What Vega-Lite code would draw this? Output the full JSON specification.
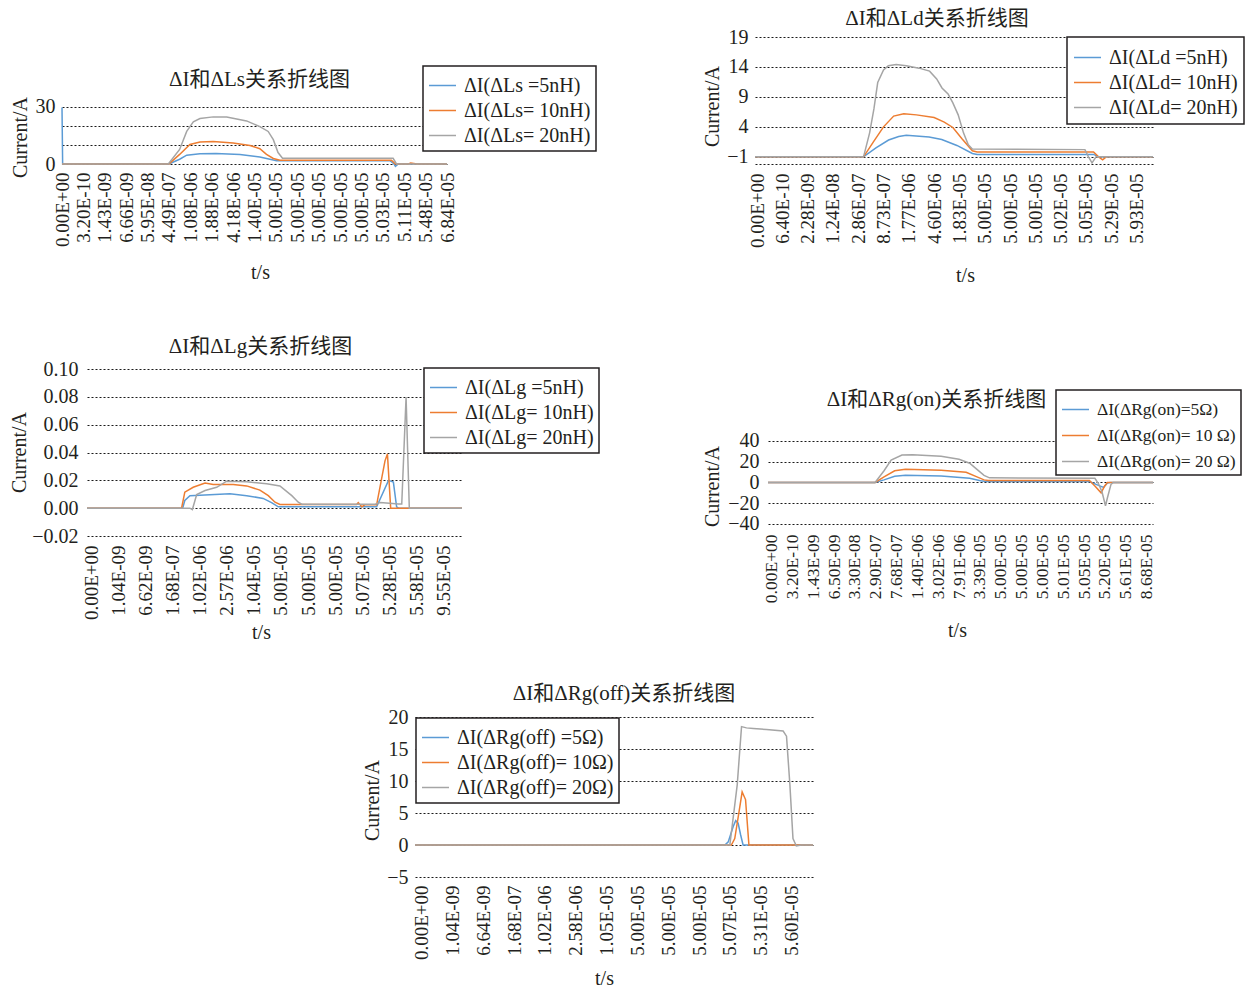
{
  "$schema": "https://vega.github.io/schema/vega-lite/v6.json",
  "background": "white",
  "padding": {"left": 9, "top": 8, "right": 0, "bottom": 0},
  "config": {
    "view": {"stroke": null},
    "font": "Liberation Serif",
    "title": {"font": "Liberation Serif, Noto Sans CJK SC", "fontSize": 21, "fontWeight": "normal", "color": "#231f20", "frame": "group", "anchor": "middle", "offset": 0, "baseline": "middle"},
    "axis": {"domain": false, "ticks": false, "grid": false, "labelFont": "Liberation Serif", "labelFontSize": 20, "labelColor": "#231f20", "titleFont": "Liberation Serif", "titleFontSize": 20, "titleFontWeight": "normal", "titleColor": "#231f20", "gridColor": "#1a1a1a", "gridDash": [2, 2], "gridWidth": 1.2, "titleBaseline": "middle", "titleAlign": "center"},
    "axisX": {"labelAngle": 270, "labelFontSize": 19, "labelOverlap": false, "labelFlush": false, "labelPadding": 8},
    "axisY": {"grid": true, "labelPadding": 7, "titleAngle": 270},
    "legend": {"labelFont": "Liberation Serif", "labelFontSize": 20, "labelColor": "#231f20", "labelLimit": 400, "symbolType": "stroke", "symbolSize": 729, "symbolStrokeWidth": 1.8, "strokeColor": "#231f20", "strokeWidth": 1.5, "fillColor": "white", "padding": 5, "rowPadding": 0, "labelOffset": 7, "orient": "none"},
    "line": {"strokeWidth": 1.5}
  },
  "datasets": {
    "p1": [
      {"s": "5nH", "x": 0, "v": 29.5}, {"s": "5nH", "x": 0.03, "v": 0}, {"s": "5nH", "x": 5.0, "v": 0}, {"s": "5nH", "x": 5.5, "v": 2.5}, {"s": "5nH", "x": 5.83, "v": 4.6}, {"s": "5nH", "x": 6.45, "v": 5.3}, {"s": "5nH", "x": 7.2, "v": 5.5}, {"s": "5nH", "x": 8.32, "v": 4.9}, {"s": "5nH", "x": 9.25, "v": 3.7}, {"s": "5nH", "x": 9.72, "v": 2.5}, {"s": "5nH", "x": 10.03, "v": 1.7}, {"s": "5nH", "x": 15.33, "v": 1.7}, {"s": "5nH", "x": 15.5, "v": 0.3}, {"s": "5nH", "x": 15.59, "v": -1.2}, {"s": "5nH", "x": 15.72, "v": 0}, {"s": "5nH", "x": 18, "v": 0},
      {"s": "10nH", "x": 0, "v": 0}, {"s": "10nH", "x": 5.0, "v": 0}, {"s": "10nH", "x": 5.5, "v": 5}, {"s": "10nH", "x": 5.98, "v": 10.2}, {"s": "10nH", "x": 6.45, "v": 11.5}, {"s": "10nH", "x": 7.07, "v": 11.8}, {"s": "10nH", "x": 8.0, "v": 11}, {"s": "10nH", "x": 8.79, "v": 9.7}, {"s": "10nH", "x": 9.25, "v": 8}, {"s": "10nH", "x": 9.56, "v": 5}, {"s": "10nH", "x": 9.88, "v": 2.9}, {"s": "10nH", "x": 10.19, "v": 2}, {"s": "10nH", "x": 15.4, "v": 2}, {"s": "10nH", "x": 15.59, "v": 0}, {"s": "10nH", "x": 16.2, "v": 0}, {"s": "10nH", "x": 16.3, "v": 0.5}, {"s": "10nH", "x": 16.45, "v": 0.3}, {"s": "10nH", "x": 16.6, "v": 0}, {"s": "10nH", "x": 18, "v": 0},
      {"s": "20nH", "x": 0, "v": 0}, {"s": "20nH", "x": 4.97, "v": 0}, {"s": "20nH", "x": 5.5, "v": 7.6}, {"s": "20nH", "x": 5.83, "v": 17}, {"s": "20nH", "x": 6.14, "v": 22}, {"s": "20nH", "x": 6.45, "v": 23.7}, {"s": "20nH", "x": 7.07, "v": 24.6}, {"s": "20nH", "x": 7.7, "v": 24.5}, {"s": "20nH", "x": 8.63, "v": 22.5}, {"s": "20nH", "x": 9.25, "v": 19.5}, {"s": "20nH", "x": 9.64, "v": 17}, {"s": "20nH", "x": 9.88, "v": 12.7}, {"s": "20nH", "x": 10.1, "v": 6}, {"s": "20nH", "x": 10.31, "v": 3}, {"s": "20nH", "x": 15.48, "v": 3}, {"s": "20nH", "x": 15.64, "v": 0}, {"s": "20nH", "x": 18, "v": 0}
    ],
    "p2": [
      {"s": "5nH", "x": -0.08, "v": -1}, {"s": "5nH", "x": 4.21, "v": -1}, {"s": "5nH", "x": 4.7, "v": 0.5}, {"s": "5nH", "x": 5.2, "v": 1.8}, {"s": "5nH", "x": 5.6, "v": 2.4}, {"s": "5nH", "x": 5.9, "v": 2.6}, {"s": "5nH", "x": 6.8, "v": 2.3}, {"s": "5nH", "x": 7.3, "v": 1.9}, {"s": "5nH", "x": 7.9, "v": 0.9}, {"s": "5nH", "x": 8.51, "v": -0.45}, {"s": "5nH", "x": 8.7, "v": -0.6}, {"s": "5nH", "x": 13.3, "v": -0.6}, {"s": "5nH", "x": 13.5, "v": -1}, {"s": "5nH", "x": 15.65, "v": -1},
      {"s": "10nH", "x": -0.08, "v": -1}, {"s": "10nH", "x": 4.21, "v": -1}, {"s": "10nH", "x": 4.6, "v": 1.5}, {"s": "10nH", "x": 5.0, "v": 4}, {"s": "10nH", "x": 5.4, "v": 5.8}, {"s": "10nH", "x": 5.8, "v": 6.2}, {"s": "10nH", "x": 6.3, "v": 6.0}, {"s": "10nH", "x": 7.0, "v": 5.55}, {"s": "10nH", "x": 7.4, "v": 4.8}, {"s": "10nH", "x": 7.74, "v": 3.9}, {"s": "10nH", "x": 8.1, "v": 2}, {"s": "10nH", "x": 8.51, "v": 0}, {"s": "10nH", "x": 8.7, "v": -0.2}, {"s": "10nH", "x": 13.3, "v": -0.2}, {"s": "10nH", "x": 13.5, "v": -1}, {"s": "10nH", "x": 13.66, "v": -1.5}, {"s": "10nH", "x": 13.8, "v": -1}, {"s": "10nH", "x": 15.65, "v": -1},
      {"s": "20nH", "x": -0.08, "v": -1}, {"s": "20nH", "x": 4.21, "v": -1}, {"s": "20nH", "x": 4.45, "v": 3}, {"s": "20nH", "x": 4.62, "v": 7}, {"s": "20nH", "x": 4.77, "v": 11.4}, {"s": "20nH", "x": 5.0, "v": 13.5}, {"s": "20nH", "x": 5.19, "v": 14.2}, {"s": "20nH", "x": 5.5, "v": 14.4}, {"s": "20nH", "x": 5.9, "v": 14.2}, {"s": "20nH", "x": 6.4, "v": 13.8}, {"s": "20nH", "x": 6.82, "v": 13.3}, {"s": "20nH", "x": 7.1, "v": 12}, {"s": "20nH", "x": 7.31, "v": 10.5}, {"s": "20nH", "x": 7.55, "v": 9.5}, {"s": "20nH", "x": 7.74, "v": 8}, {"s": "20nH", "x": 7.95, "v": 6}, {"s": "20nH", "x": 8.16, "v": 3}, {"s": "20nH", "x": 8.35, "v": 1}, {"s": "20nH", "x": 8.51, "v": 0.3}, {"s": "20nH", "x": 12.96, "v": 0.2}, {"s": "20nH", "x": 13.1, "v": -1}, {"s": "20nH", "x": 13.24, "v": -2}, {"s": "20nH", "x": 13.4, "v": -1}, {"s": "20nH", "x": 15.65, "v": -1}
    ],
    "p3": [
      {"s": "5nH", "x": -0.18, "v": 0}, {"s": "5nH", "x": 3.36, "v": 0}, {"s": "5nH", "x": 3.44, "v": 0.0055}, {"s": "5nH", "x": 3.63, "v": 0.009}, {"s": "5nH", "x": 5.11, "v": 0.0103}, {"s": "5nH", "x": 5.73, "v": 0.009}, {"s": "5nH", "x": 6.34, "v": 0.007}, {"s": "5nH", "x": 6.65, "v": 0.004}, {"s": "5nH", "x": 6.9, "v": 0.001}, {"s": "5nH", "x": 10.54, "v": 0.001}, {"s": "5nH", "x": 10.98, "v": 0.02}, {"s": "5nH", "x": 11.16, "v": 0.0187}, {"s": "5nH", "x": 11.28, "v": 0.001}, {"s": "5nH", "x": 11.35, "v": 0}, {"s": "5nH", "x": 13.7, "v": 0},
      {"s": "10nH", "x": -0.18, "v": 0}, {"s": "10nH", "x": 3.32, "v": 0}, {"s": "10nH", "x": 3.44, "v": 0.0115}, {"s": "10nH", "x": 3.75, "v": 0.015}, {"s": "10nH", "x": 4.19, "v": 0.018}, {"s": "10nH", "x": 4.49, "v": 0.017}, {"s": "10nH", "x": 5.23, "v": 0.017}, {"s": "10nH", "x": 5.73, "v": 0.016}, {"s": "10nH", "x": 6.22, "v": 0.013}, {"s": "10nH", "x": 6.53, "v": 0.009}, {"s": "10nH", "x": 6.78, "v": 0.0043}, {"s": "10nH", "x": 6.96, "v": 0.0026}, {"s": "10nH", "x": 9.8, "v": 0.0026}, {"s": "10nH", "x": 9.86, "v": 0.004}, {"s": "10nH", "x": 9.99, "v": 0.001}, {"s": "10nH", "x": 10.1, "v": 0.0024}, {"s": "10nH", "x": 10.54, "v": 0.0024}, {"s": "10nH", "x": 10.85, "v": 0.034}, {"s": "10nH", "x": 10.94, "v": 0.039}, {"s": "10nH", "x": 11.06, "v": 0}, {"s": "10nH", "x": 13.7, "v": 0},
      {"s": "20nH", "x": -0.18, "v": 0}, {"s": "20nH", "x": 3.63, "v": 0}, {"s": "20nH", "x": 3.72, "v": -0.001}, {"s": "20nH", "x": 3.88, "v": 0.0098}, {"s": "20nH", "x": 4.19, "v": 0.0127}, {"s": "20nH", "x": 4.62, "v": 0.015}, {"s": "20nH", "x": 4.99, "v": 0.0194}, {"s": "20nH", "x": 5.73, "v": 0.019}, {"s": "20nH", "x": 6.47, "v": 0.0175}, {"s": "20nH", "x": 6.96, "v": 0.016}, {"s": "20nH", "x": 7.4, "v": 0.009}, {"s": "20nH", "x": 7.64, "v": 0.0043}, {"s": "20nH", "x": 7.77, "v": 0.0029}, {"s": "20nH", "x": 10.48, "v": 0.0029}, {"s": "20nH", "x": 10.67, "v": 0.004}, {"s": "20nH", "x": 11.35, "v": 0.003}, {"s": "20nH", "x": 11.47, "v": 0.003}, {"s": "20nH", "x": 11.63, "v": 0.0798}, {"s": "20nH", "x": 11.75, "v": 0}, {"s": "20nH", "x": 13.7, "v": 0}
    ],
    "p4": [
      {"s": "5Ω", "x": -0.17, "v": 0}, {"s": "5Ω", "x": 4.97, "v": 0}, {"s": "5Ω", "x": 5.4, "v": 2.5}, {"s": "5Ω", "x": 5.91, "v": 6}, {"s": "5Ω", "x": 6.43, "v": 6.9}, {"s": "5Ω", "x": 8.14, "v": 6.3}, {"s": "5Ω", "x": 9.51, "v": 4}, {"s": "5Ω", "x": 10.03, "v": 1.6}, {"s": "5Ω", "x": 10.3, "v": 1}, {"s": "5Ω", "x": 15.26, "v": 1}, {"s": "5Ω", "x": 15.69, "v": -2.8}, {"s": "5Ω", "x": 15.94, "v": -4.8}, {"s": "5Ω", "x": 16.12, "v": -0.6}, {"s": "5Ω", "x": 16.25, "v": 0}, {"s": "5Ω", "x": 18.31, "v": 0},
      {"s": "10Ω", "x": -0.17, "v": 0}, {"s": "10Ω", "x": 4.97, "v": 0}, {"s": "10Ω", "x": 5.4, "v": 5.4}, {"s": "10Ω", "x": 5.91, "v": 11.3}, {"s": "10Ω", "x": 6.43, "v": 12.7}, {"s": "10Ω", "x": 8.14, "v": 11.9}, {"s": "10Ω", "x": 9.34, "v": 9.8}, {"s": "10Ω", "x": 9.86, "v": 5.4}, {"s": "10Ω", "x": 10.2, "v": 2.5}, {"s": "10Ω", "x": 10.4, "v": 1.9}, {"s": "10Ω", "x": 15.26, "v": 1.9}, {"s": "10Ω", "x": 15.52, "v": -3.4}, {"s": "10Ω", "x": 15.82, "v": -10}, {"s": "10Ω", "x": 15.99, "v": -3.4}, {"s": "10Ω", "x": 16.12, "v": 0}, {"s": "10Ω", "x": 18.31, "v": 0},
      {"s": "20Ω", "x": -0.17, "v": 0}, {"s": "20Ω", "x": 4.97, "v": 0}, {"s": "20Ω", "x": 5.4, "v": 11.3}, {"s": "20Ω", "x": 5.74, "v": 21.5}, {"s": "20Ω", "x": 6.26, "v": 26.5}, {"s": "20Ω", "x": 6.77, "v": 26.8}, {"s": "20Ω", "x": 8.14, "v": 25.3}, {"s": "20Ω", "x": 9.0, "v": 22.4}, {"s": "20Ω", "x": 9.51, "v": 18.6}, {"s": "20Ω", "x": 9.86, "v": 12.7}, {"s": "20Ω", "x": 10.2, "v": 6.9}, {"s": "20Ω", "x": 10.46, "v": 4.5}, {"s": "20Ω", "x": 15.52, "v": 4}, {"s": "20Ω", "x": 15.69, "v": -1}, {"s": "20Ω", "x": 15.86, "v": -9}, {"s": "20Ω", "x": 16.03, "v": -22.4}, {"s": "20Ω", "x": 16.12, "v": -15}, {"s": "20Ω", "x": 16.29, "v": -2}, {"s": "20Ω", "x": 16.4, "v": 0}, {"s": "20Ω", "x": 18.31, "v": 0}
    ],
    "p5": [
      {"s": "5Ω", "x": -0.22, "v": 0}, {"s": "5Ω", "x": 9.84, "v": 0}, {"s": "5Ω", "x": 9.95, "v": 0.5}, {"s": "5Ω", "x": 10.11, "v": 2.9}, {"s": "5Ω", "x": 10.19, "v": 3.8}, {"s": "5Ω", "x": 10.27, "v": 3.4}, {"s": "5Ω", "x": 10.35, "v": 1.6}, {"s": "5Ω", "x": 10.43, "v": 0}, {"s": "5Ω", "x": 12.7, "v": 0},
      {"s": "10Ω", "x": -0.22, "v": 0}, {"s": "10Ω", "x": 10.05, "v": 0}, {"s": "10Ω", "x": 10.16, "v": 1}, {"s": "10Ω", "x": 10.3, "v": 5.2}, {"s": "10Ω", "x": 10.4, "v": 8.3}, {"s": "10Ω", "x": 10.51, "v": 7.1}, {"s": "10Ω", "x": 10.62, "v": 0}, {"s": "10Ω", "x": 12.7, "v": 0},
      {"s": "20Ω", "x": -0.22, "v": 0}, {"s": "20Ω", "x": 10.0, "v": 0}, {"s": "20Ω", "x": 10.24, "v": 9.4}, {"s": "20Ω", "x": 10.38, "v": 18.5}, {"s": "20Ω", "x": 10.54, "v": 18.3}, {"s": "20Ω", "x": 10.76, "v": 18.2}, {"s": "20Ω", "x": 11.19, "v": 18.05}, {"s": "20Ω", "x": 11.73, "v": 17.8}, {"s": "20Ω", "x": 11.84, "v": 17.0}, {"s": "20Ω", "x": 11.95, "v": 9.4}, {"s": "20Ω", "x": 12.05, "v": 1}, {"s": "20Ω", "x": 12.16, "v": -0.15}, {"s": "20Ω", "x": 12.32, "v": 0}, {"s": "20Ω", "x": 12.7, "v": 0}
    ],
    "blank": [{"a": 1}]
  },
  "bounds": "flush",
  "spacing": 0,
  "resolve": {"scale": {"color": "independent"}, "legend": {"color": "independent"}},
  "vconcat": [
    {
      "hconcat": [
        {
          "width": 385, "height": 127,
          "data": {"name": "p1"},
          "title": {"text": "ΔI和ΔLs关系折线图", "dx": 5, "dy": 57},
          "mark": "line",
          "encoding": {
            "x": {"field": "x", "type": "quantitative", "scale": {"domain": [0, 18], "nice": false, "zero": false},
              "axis": {"values": [0,1,2,3,4,5,6,7,8,9,10,11,12,13,14,15,16,17,18], "labelExpr": "['0.00E+00','3.20E-10','1.43E-09','6.66E-09','5.95E-08','4.49E-07','1.08E-06','1.88E-06','4.18E-06','1.40E-05','5.00E-05','5.00E-05','5.00E-05','5.00E-05','5.00E-05','5.03E-05','5.11E-05','5.48E-05','6.84E-05'][datum.value]", "title": "t/s", "titleX": 198, "titleY": 108}},
            "y": {"field": "v", "type": "quantitative", "scale": {"domain": [0, 66.3], "nice": false, "zero": false},
              "axis": {"values": [0, 10, 20, 30], "title": "Current/A", "titleX": -41.5, "titleY": 100}},
            "color": {"field": "s", "type": "nominal", "scale": {"domain": ["5nH", "10nH", "20nH"], "range": ["#5B9BD5", "#ED7D31", "#A5A5A5"]},
              "legend": {"title": null, "legendX": 361, "legendY": 29, "labelExpr": "datum.label == '5nH' ? 'ΔI(ΔLs =5nH)' : 'ΔI(ΔLs= ' + datum.label + ')'"}}
          }
        },
        {"width": 308, "height": 1, "data": {"name": "blank"}, "mark": {"type": "point", "opacity": 0}},
        {
          "width": 398, "height": 127,
          "data": {"name": "p2"},
          "title": {"text": "ΔI和ΔLd关系折线图", "dx": -17, "dy": 6},
          "mark": "line",
          "encoding": {
            "x": {"field": "x", "type": "quantitative", "scale": {"domain": [-0.08, 15.65], "nice": false, "zero": false},
              "axis": {"values": [0,1,2,3,4,5,6,7,8,9,10,11,12,13,14,15], "labelPadding": 9, "labelExpr": "['0.00E+00','6.40E-10','2.28E-09','1.24E-08','2.86E-07','8.73E-07','1.77E-06','4.60E-06','1.83E-05','5.00E-05','5.00E-05','5.00E-05','5.02E-05','5.05E-05','5.29E-05','5.93E-05'][datum.value]", "title": "t/s", "titleX": 210, "titleY": 111}},
            "y": {"field": "v", "type": "quantitative", "scale": {"domain": [-2.2, 19], "nice": false, "zero": false},
              "axis": {"values": [-2.2, -1, 4, 9, 14, 19], "labelExpr": "datum.value < -2 ? '' : datum.label", "title": "Current/A", "titleX": -43, "titleY": 69}},
            "color": {"field": "s", "type": "nominal", "scale": {"domain": ["5nH", "10nH", "20nH"], "range": ["#5B9BD5", "#ED7D31", "#A5A5A5"]},
              "legend": {"title": null, "legendX": 312, "legendY": 0, "padding": 6, "labelExpr": "datum.label == '5nH' ? 'ΔI(ΔLd =5nH)' : 'ΔI(ΔLd= ' + datum.label + ')'"}}
          }
        }
      ],
      "spacing": 0, "bounds": "flush",
      "resolve": {"scale": {"color": "independent"}, "legend": {"color": "independent"}}
    },
    {"width": 1, "height": 332, "data": {"name": "blank"}, "mark": {"type": "point", "opacity": 0}},
    {
      "hconcat": [
        {"width": 25, "height": 1, "data": {"name": "blank"}, "mark": {"type": "point", "opacity": 0}},
        {
          "width": 375, "height": 167,
          "data": {"name": "p3"},
          "title": {"text": "ΔI和ΔLg关系折线图", "dx": -14, "dy": 2},
          "mark": "line",
          "encoding": {
            "x": {"field": "x", "type": "quantitative", "scale": {"domain": [-0.18, 13.7], "nice": false, "zero": false},
              "axis": {"values": [0,1,2,3,4,5,6,7,8,9,10,11,12,13], "labelPadding": 9, "labelExpr": "['0.00E+00','1.04E-09','6.62E-09','1.68E-07','1.02E-06','2.57E-06','1.04E-05','5.00E-05','5.00E-05','5.00E-05','5.07E-05','5.28E-05','5.58E-05','9.55E-05'][datum.value]", "title": "t/s", "titleX": 174, "titleY": 96}},
            "y": {"field": "v", "type": "quantitative", "scale": {"domain": [-0.02, 0.1], "nice": false, "zero": false},
              "axis": {"values": [-0.02, 0, 0.02, 0.04, 0.06, 0.08, 0.1], "format": ".2f", "labelPadding": 9, "title": "Current/A", "titleX": -68, "titleY": 83}},
            "color": {"field": "s", "type": "nominal", "scale": {"domain": ["5nH", "10nH", "20nH"], "range": ["#5B9BD5", "#ED7D31", "#A5A5A5"]},
              "legend": {"title": null, "legendX": 337, "legendY": -1, "labelExpr": "datum.label == '5nH' ? 'ΔI(ΔLg =5nH)' : 'ΔI(ΔLg= ' + datum.label + ')'"}}
          }
        },
        {"width": 306, "height": 1, "data": {"name": "blank"}, "mark": {"type": "point", "opacity": 0}},
        {
          "width": 385, "height": 167,
          "data": {"name": "p4"},
          "title": {"text": "ΔI和ΔRg(on)关系折线图", "dx": -24, "dy": 45},
          "mark": "line",
          "encoding": {
            "x": {"field": "x", "type": "quantitative", "scale": {"domain": [-0.17, 18.31], "nice": false, "zero": false},
              "axis": {"values": [0,1,2,3,4,5,6,7,8,9,10,11,12,13,14,15,16,17,18], "offset": -12, "labelFontSize": 17.5, "labelPadding": 10, "labelExpr": "['0.00E+00','3.20E-10','1.43E-09','6.50E-09','3.30E-08','2.90E-07','7.68E-07','1.40E-06','3.02E-06','7.91E-06','3.39E-05','5.00E-05','5.00E-05','5.00E-05','5.01E-05','5.05E-05','5.20E-05','5.61E-05','8.68E-05'][datum.value]", "title": "t/s", "titleX": 189, "titleY": 106}},
            "y": {"field": "v", "type": "quantitative", "scale": {"domain": [-51.6, 109.4], "nice": false, "zero": false},
              "axis": {"values": [-40, -20, 0, 20, 40], "labelPadding": 9, "title": "Current/A", "titleX": -56, "titleY": 117}},
            "color": {"field": "s", "type": "nominal", "scale": {"domain": ["5Ω", "10Ω", "20Ω"], "range": ["#5B9BD5", "#ED7D31", "#A5A5A5"]},
              "legend": {"title": null, "legendX": 288, "legendY": 21, "labelFontSize": 17.5, "rowPadding": 3, "labelExpr": "datum.label == '5Ω' ? 'ΔI(ΔRg(on)=5Ω)' : 'ΔI(ΔRg(on)= ' + replace(datum.label, 'Ω', ' Ω') + ')'"}}
          }
        }
      ],
      "spacing": 0, "bounds": "flush",
      "resolve": {"scale": {"color": "independent"}, "legend": {"color": "independent"}}
    },
    {"width": 1, "height": 348, "data": {"name": "blank"}, "mark": {"type": "point", "opacity": 0}},
    {
      "hconcat": [
        {"width": 353, "height": 1, "data": {"name": "blank"}, "mark": {"type": "point", "opacity": 0}},
        {
          "width": 398, "height": 160,
          "data": {"name": "p5"},
          "title": {"text": "ΔI和ΔRg(off)关系折线图", "dx": 10, "dy": 1},
          "mark": "line",
          "encoding": {
            "x": {"field": "x", "type": "quantitative", "scale": {"domain": [-0.22, 12.7], "nice": false, "zero": false},
              "axis": {"values": [0,1,2,3,4,5,6,7,8,9,10,11,12], "labelExpr": "['0.00E+00','1.04E-09','6.64E-09','1.68E-07','1.02E-06','2.58E-06','1.05E-05','5.00E-05','5.00E-05','5.00E-05','5.07E-05','5.31E-05','5.60E-05'][datum.value]", "title": "t/s", "titleX": 189, "titleY": 101}},
            "y": {"field": "v", "type": "quantitative", "scale": {"domain": [-5, 20], "nice": false, "zero": false},
              "axis": {"values": [-5, 0, 5, 10, 15, 20], "title": "Current/A", "titleX": -43, "titleY": 83}},
            "color": {"field": "s", "type": "nominal", "scale": {"domain": ["5Ω", "10Ω", "20Ω"], "range": ["#5B9BD5", "#ED7D31", "#A5A5A5"]},
              "legend": {"title": null, "legendX": 1, "legendY": 1, "labelExpr": "datum.label == '5Ω' ? 'ΔI(ΔRg(off) =5Ω)' : 'ΔI(ΔRg(off)= ' + datum.label + ')'"}}
          }
        }
      ],
      "spacing": 0, "bounds": "flush",
      "resolve": {"scale": {"color": "independent"}, "legend": {"color": "independent"}}
    }
  ]
}
